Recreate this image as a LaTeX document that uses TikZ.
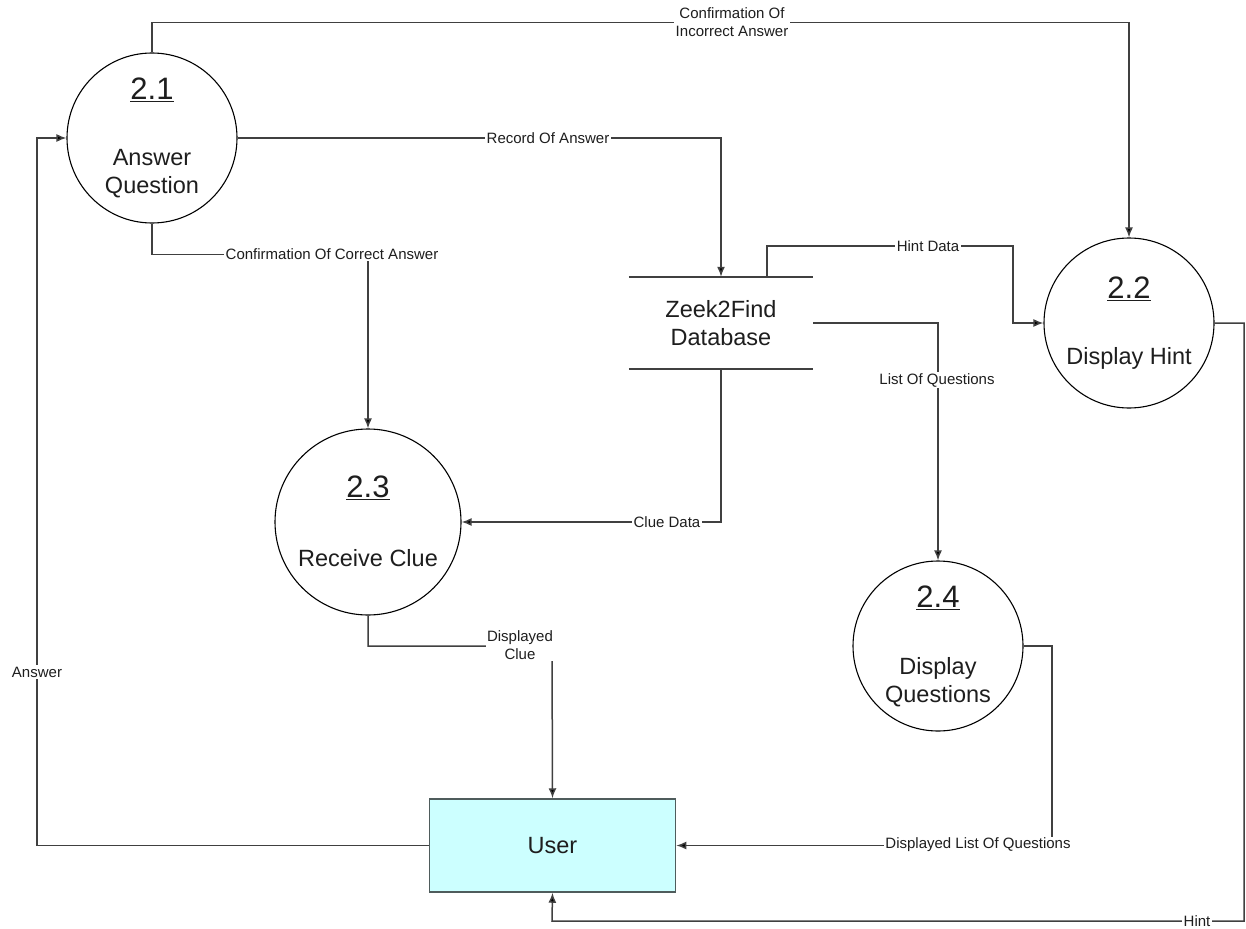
\documentclass[tikz,border=0pt]{standalone}
\usepackage{fontspec}
\setmainfont{Liberation Sans}
\usetikzlibrary{arrows.meta,calc}
\definecolor{linecol}{HTML}{404040}
\definecolor{txtcol}{HTML}{1E1E1E}
\definecolor{userfill}{HTML}{CCFFFF}
\definecolor{userborder}{HTML}{4F5C5C}
\newcommand{\ulnum}[1]{\underline{#1}}
\begin{document}
\begin{tikzpicture}[x=1pt,y=-1pt,
  proc/.style={circle,draw=black,line width=1.1pt,inner sep=0pt},
  flow/.style={draw=linecol,line width=1.5pt,-{Latex[length=10pt,width=8pt,fill=black]}},
  line/.style={draw=linecol,line width=1.5pt},
  lbl/.style={fill=white,inner sep=1.5pt,text=txtcol,font=\fontsize{15}{18}\selectfont,align=center},
  num/.style={text=txtcol,font=\fontsize{31}{34}\selectfont,inner sep=0pt},
  big/.style={text=txtcol,font=\fontsize{23.5}{28}\selectfont,align=center,inner sep=0pt}]
\useasboundingbox (0,0) rectangle (1246,928);
\fill[white] (0,0) rectangle (1246,928);

% processes
\node[proc,minimum size=170pt] (c21) at (152,138) {};
\node[proc,minimum size=170pt] (c22) at (1129,323) {};
\node[proc,minimum size=186pt] (c23) at (368,522) {};
\node[proc,minimum size=170pt] (c24) at (938,646) {};

\node[num] (n21) at (152,90) {\ulnum{2.1}};
\node[big] (t21) at (152,174) {Answer\\Question};
\node[num] (n22) at (1129,289) {\ulnum{2.2}};
\node[big] (t22) at (1129,358) {Display Hint};
\node[num] (n23) at (368,488) {\ulnum{2.3}};
\node[big] (t23) at (368,558) {Receive Clue};
\node[num] (n24) at (938,598) {\ulnum{2.4}};
\node[big] (t24) at (938,682) {Display\\Questions};

% data store
\node[minimum width=184pt,minimum height=92pt,inner sep=0pt,big] (db) at (721,323) {Zeek2Find\\Database};
\draw[line] (db.north west) -- (db.north east);
\draw[line] (db.south west) -- (db.south east);

% external entity
\node[draw=userborder,line width=1.5pt,fill=userfill,minimum width=246pt,minimum height=93pt,big] (user) at (552.5,845.5) {User};

% flows
\draw[flow] (c21.north) -- ++(0,-30) -| (c22.north);
\draw[flow] (c21.east) -| (db.north);
\draw[flow] (c21.south) -- ++(0,31) -| (c23.north);
\draw[flow] ([xshift=46pt]db.north) |- (1013,246) |- (c22.west);
\draw[flow] (db.east) -| (c24.north);
\draw[flow] (db.south) |- (c23.east);
\draw[flow] (c23.south) |- (552,646) -- (user.north);
\draw[flow] (user.west) -| (37,500) |- (c21.west);
\draw[flow] (c24.east) -| (1052,760) |- (user.east);
\draw[flow] (c22.east) -| (1244,600) |- (552,921) -- (user.south);

% labels
\node[lbl] (l1) at (732,22) {Confirmation Of\\Incorrect Answer};
\node[lbl] (l2) at (548,138) {Record Of Answer};
\node[lbl] (l3) at (332,254) {Confirmation Of Correct Answer};
\node[lbl] (l4) at (928,246) {Hint Data};
\node[lbl] (l5) at (937,380) {List Of Questions};
\node[lbl] (l6) at (667,522) {Clue Data};
\node[lbl] (l7) at (520,645) {Displayed\\Clue};
\node[lbl] (l8) at (37,672) {Answer};
\node[lbl] (l9) at (978,845) {Displayed List Of Questions};
\node[lbl] (l10) at (1197,921) {Hint};
\end{tikzpicture}
\end{document}
